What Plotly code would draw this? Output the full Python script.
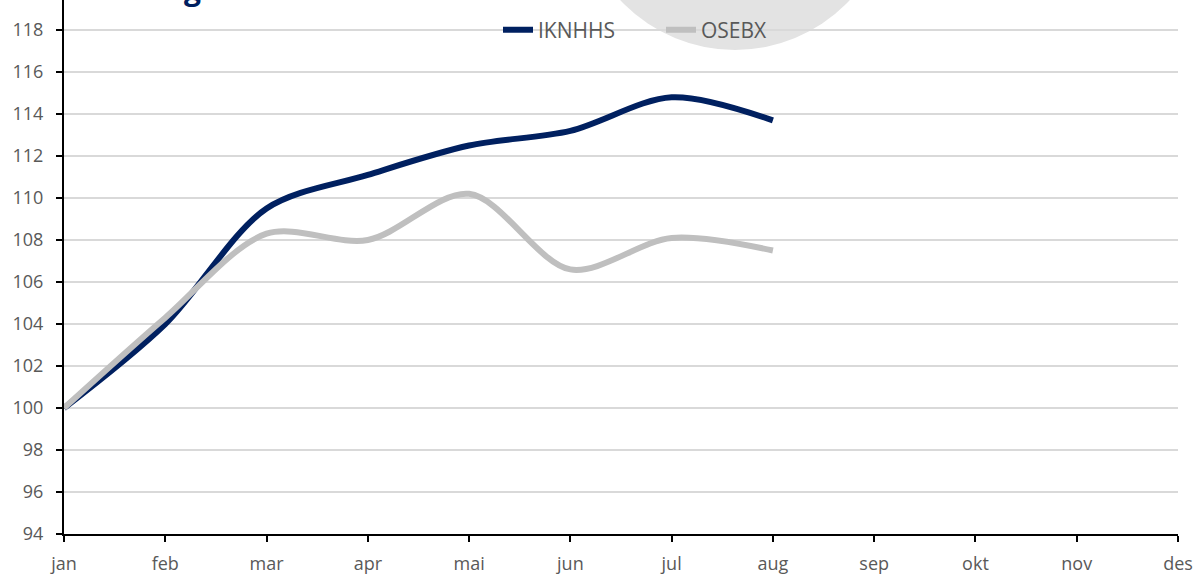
import plotly.graph_objects as go

months = ["jan", "feb", "mar", "apr", "mai", "jun", "jul", "aug", "sep", "okt", "nov", "des"]
ikn_months = ["jan", "feb", "mar", "apr", "mai", "jun", "jul", "aug"]
iknhhs = [100.0, 104.0, 109.5, 111.1, 112.5, 113.2, 114.8, 113.7]
osebx = [100.0, 104.3, 108.3, 108.0, 110.2, 106.6, 108.1, 107.5]
y_ticks = list(range(94, 119, 2))

W, H = 1200, 575
fig = go.Figure()
fig.add_trace(go.Scatter(x=ikn_months, y=iknhhs, name="IKNHHS", mode="lines",
                         line=dict(color="#002060", width=6, shape="spline", smoothing=0.9)))
fig.add_trace(go.Scatter(x=ikn_months, y=osebx, name="OSEBX", mode="lines",
                         line=dict(color="#bfbfbf", width=6, shape="spline", smoothing=0.9)))

# decorative circle (partially visible at top)
cx, cy, r = 735, -107, 157
fig.add_shape(type="circle", xref="paper", yref="paper", layer="below",
              x0=(cx - r - 64) / (1178 - 64), x1=(cx + r - 64) / (1178 - 64),
              y0=1 - (cy + r) / 534, y1=1 - (cy - r) / 534,
              fillcolor="#e3e3e3", line=dict(width=0))

# partially visible title (cut by the top edge)
fig.add_annotation(text="<b>Avkastning</b>", xref="paper", yref="paper",
                   x=(203 - 64) / (1178 - 64), y=1 - 11 / 534, xanchor="right", yanchor="bottom",
                   showarrow=False, font=dict(size=30, color="#002060", family="Open Sans"))

fig.update_layout(
    width=W, height=H,
    margin=dict(l=64, r=22, t=0, b=41),
    paper_bgcolor="white", plot_bgcolor="rgba(0,0,0,0)",
    font=dict(family="Open Sans", color="#595959", size=17),
    showlegend=True,
    legend=dict(orientation="h", x=(498 - 64) / (1178 - 64), xanchor="left",
                y=1 - 30 / 534, yanchor="middle", bgcolor="rgba(0,0,0,0)",
                entrywidth=118, entrywidthmode="pixels",
                font=dict(size=21, color="#595959")),
    xaxis=dict(type="category", categoryorder="array", categoryarray=months,
               range=[0, 11], showgrid=False, showline=True, linecolor="black", linewidth=2,
               ticks="outside", ticklen=6, tickcolor="black", tickwidth=2, ticklabelstandoff=6,
               tickfont=dict(size=18, color="#595959"), zeroline=False),
    yaxis=dict(range=[94, 119.43], tickvals=y_ticks, showgrid=True, gridcolor="#d9d9d9", gridwidth=2,
               showline=True, linecolor="black", linewidth=2,
               ticks="outside", ticklen=6, tickcolor="black", tickwidth=2, ticklabelstandoff=9,
               tickfont=dict(size=18, color="#595959"), zeroline=False),
)

fig.write_html("out.html", config={"displayModeBar": False},
               post_script="document.body.style.margin='0';document.body.style.overflow='hidden';")
